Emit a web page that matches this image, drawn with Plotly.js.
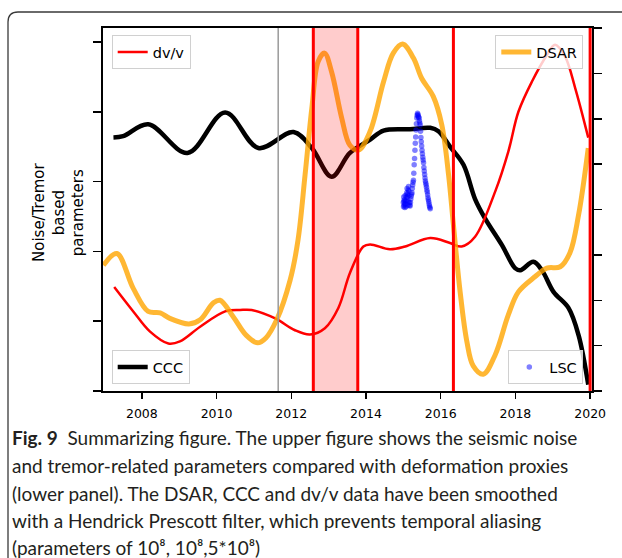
<!DOCTYPE html>
<html>
<head>
<meta charset="utf-8">
<script src="https://cdn.plot.ly/plotly-3.0.1.min.js"></script>
<style>
html,body{margin:0;padding:0;background:#fff;}
#chart{width:622px;height:558px;}
</style>
</head>
<body>
<div id="chart"></div>
<script>
// ---- data (years, arbitrary normalised units) ----
var cccYears = [2007.24, 2007.50, 2008.17, 2009.22, 2010.23, 2011.12, 2012.06, 2012.55, 2013.08, 2013.57, 2014.11, 2014.47, 2015.18, 2015.72, 2015.94, 2016.25, 2016.61, 2016.92, 2017.19, 2017.64, 2017.99, 2018.13, 2018.48, 2018.71, 2019.02, 2019.42, 2019.69, 2019.95];
var cccVals  = [3.63, 3.65, 3.82, 3.41, 3.99, 3.48, 3.71, 3.48, 3.07, 3.41, 3.60, 3.73, 3.75, 3.77, 3.72, 3.50, 3.24, 2.75, 2.47, 2.09, 1.76, 1.73, 1.85, 1.73, 1.42, 1.19, 0.80, 0.09];

var dsarYears = [2006.97, 2007.33, 2007.77, 2008.17, 2008.49, 2008.75, 2009.26, 2009.56, 2009.91, 2010.09, 2010.45, 2010.79, 2011.10, 2011.32, 2011.61, 2011.97, 2012.18, 2012.37, 2012.55, 2012.72, 2012.89, 2013.08, 2013.35, 2013.57, 2013.80, 2014.11, 2014.47, 2014.73, 2014.98, 2015.27, 2015.49, 2015.80, 2016.03, 2016.21, 2016.34, 2016.52, 2016.70, 2016.87, 2017.14, 2017.46, 2017.81, 2018.08, 2018.53, 2018.84, 2019.20, 2019.46, 2019.69, 2019.95];
var dsarVals  = [1.80, 1.97, 1.47, 1.14, 1.12, 1.04, 0.96, 1.02, 1.26, 1.30, 1.06, 0.80, 0.69, 0.76, 1.02, 1.59, 2.16, 3.10, 4.05, 4.72, 4.84, 4.57, 3.91, 3.52, 3.45, 3.72, 4.43, 4.84, 4.97, 4.77, 4.48, 4.22, 3.81, 3.10, 2.38, 1.42, 0.71, 0.36, 0.24, 0.52, 1.09, 1.42, 1.64, 1.76, 1.78, 1.98, 2.52, 3.48];

var dvvYears = [2007.26, 2007.77, 2008.22, 2008.71, 2009.02, 2009.56, 2010.23, 2010.63, 2010.94, 2011.57, 2012.10, 2012.50, 2012.90, 2013.26, 2013.57, 2013.93, 2014.11, 2014.64, 2015.05, 2015.72, 2016.25, 2016.56, 2016.92, 2017.46, 2017.81, 2018.08, 2018.44, 2018.84, 2019.06, 2019.33, 2019.60, 2019.95];
var dvvVals  = [1.49, 1.14, 0.85, 0.68, 0.71, 0.92, 1.14, 1.16, 1.16, 1.04, 0.87, 0.81, 0.90, 1.19, 1.69, 2.07, 2.10, 2.03, 2.07, 2.19, 2.12, 2.07, 2.21, 2.86, 3.43, 4.00, 4.43, 4.81, 4.96, 4.79, 4.34, 3.63];

var lscYears = [2015.00, 2015.005, 2015.01, 2015.015, 2015.02, 2015.03, 2015.035, 2015.04, 2015.05, 2015.055, 2015.06, 2015.07, 2015.08, 2015.085, 2015.09, 2015.10, 2015.105, 2015.11, 2015.12, 2015.125, 2015.13, 2015.14, 2015.145, 2015.15, 2015.16, 2015.17, 2015.18, 2015.19, 2015.20, 2015.21, 2015.22,
  2015.23, 2015.24, 2015.25, 2015.26, 2015.27, 2015.28, 2015.29, 2015.30, 2015.31, 2015.32, 2015.33, 2015.34, 2015.35, 2015.36, 2015.37, 2015.38,
  2015.39, 2015.40, 2015.41, 2015.42, 2015.43, 2015.44, 2015.45, 2015.46, 2015.47, 2015.48, 2015.49, 2015.50, 2015.51, 2015.52, 2015.53, 2015.54, 2015.55, 2015.56, 2015.57, 2015.58, 2015.59, 2015.60, 2015.61, 2015.62, 2015.63, 2015.64, 2015.65, 2015.66, 2015.67, 2015.68, 2015.69, 2015.70, 2015.71, 2015.72];
var lscVals  = [2.70, 2.64, 2.78, 2.72, 2.66, 2.74, 2.68, 2.63, 2.80, 2.72, 2.68, 2.64, 2.72, 2.78, 2.84, 2.90, 2.82, 2.78, 2.66, 2.72, 2.88, 2.93, 2.80, 2.86, 2.70, 2.66, 2.65, 2.70, 2.75, 2.79, 2.82,
  2.84, 2.90, 2.95, 2.99, 3.02, 3.12, 3.24, 3.33, 3.45, 3.55, 3.64, 3.74, 3.83, 3.91, 3.95, 3.98,
  3.96, 3.94, 3.92, 3.91, 3.87, 3.84, 3.81, 3.72, 3.63, 3.57, 3.51, 3.45, 3.40, 3.35, 3.31, 3.27, 3.20, 3.15, 3.10, 3.05, 3.01, 2.98, 2.95, 2.92, 2.88, 2.85, 2.81, 2.77, 2.74, 2.71, 2.68, 2.65, 2.63, 2.61];

var xTickVals = [2008, 2010, 2012, 2014, 2016, 2018, 2020];
var xTickText = ['2008', '2010', '2012', '2014', '2016', '2018', '2020'];

var grayLineYear = 2011.65;
var bandStart = 2012.59, bandEnd = 2013.78;
var redLineYears = [2012.59, 2013.78, 2016.34, 2020.0];

var captionLines = [
  '<b>Fig. 9</b>  Summarizing figure. The upper figure shows the seismic noise',
  'and tremor-related parameters compared with deformation proxies',
  '(lower panel). The DSAR, CCC and dv/v data have been smoothed',
  'with a Hendrick Prescott filter, which prevents temporal aliasing',
  '(parameters of 10\u2078, 10\u2078,5*10\u2078)'
];

// ---- geometry helpers (pixel -> paper) ----
var L = 103, R = 592, T = 28, B = 391, W = 622, H = 558;
function px(x){ return (x - L) / (R - L); }
function py(y){ return (B - y) / (B - T); }

var traces = [
  {x: cccYears, y: cccVals, name: 'CCC', type: 'scatter', mode: 'lines',
   line: {color: '#000000', width: 4.5, shape: 'spline', smoothing: 1}, legend: 'legend3'},
  {x: dvvYears, y: dvvVals, name: 'dv/v', type: 'scatter', mode: 'lines',
   line: {color: '#ff0000', width: 2.5, shape: 'spline', smoothing: 1}, legend: 'legend'},
  {x: dsarYears, y: dsarVals, name: 'DSAR', type: 'scatter', mode: 'lines',
   line: {color: 'rgba(255,165,0,0.8)', width: 5, shape: 'spline', smoothing: 1}, legend: 'legend2'},
  {x: lscYears, y: lscVals, name: 'LSC', type: 'scatter', mode: 'markers',
   marker: {color: 'rgba(0,0,255,0.5)', size: 5.5, line: {width: 0}}, legend: 'legend4'},
  {x: [2010], y: [0], yaxis: 'y2', showlegend: false, mode: 'markers', marker: {opacity: 0}, hoverinfo: 'skip'}
];

var shapes = [];
shapes.push({type: 'rect', xref: 'x', yref: 'paper', x0: bandStart, x1: bandEnd, y0: 0, y1: 1,
  fillcolor: 'rgba(255,0,0,0.2)', line: {width: 0}, layer: 'above'});
shapes.push({type: 'line', xref: 'x', yref: 'paper', x0: grayLineYear, x1: grayLineYear, y0: 0, y1: 1,
  line: {color: '#9a9a9a', width: 1.5}, layer: 'above'});
redLineYears.forEach(function(v){
  shapes.push({type: 'line', xref: 'x', yref: 'paper', x0: v, x1: v, y0: 0, y1: 1,
    line: {color: '#ff0000', width: 3}, layer: 'above'});
});
// outer rounded frame
var fx = px(8), fx2 = px(18), fxr = px(640);
var fy = py(12), fy2 = py(22), fyb = py(580);
shapes.push({type: 'path', xref: 'paper', yref: 'paper',
  path: 'M ' + fx + ',' + fyb + ' L ' + fx + ',' + fy2 + ' Q ' + fx + ',' + fy + ' ' + fx2 + ',' + fy + ' L ' + fxr + ',' + fy,
  line: {color: '#3a3a3a', width: 1.3}});

var annotations = [];
annotations.push({xref: 'paper', yref: 'paper', x: px(59), y: py(213), xanchor: 'center', yanchor: 'middle',
  text: 'Noise/Tremor<br>based<br>parameters', textangle: -90, showarrow: false,
  font: {family: 'DejaVu Sans', size: 15, color: '#000'}});
var capY = [437, 465, 493, 520, 547];
captionLines.forEach(function(t, i){
  annotations.push({xref: 'paper', yref: 'paper', x: px(10), y: py(capY[i]), xanchor: 'left', yanchor: 'middle',
    text: t, showarrow: false, align: 'left',
    font: {family: 'Lato', size: 19, color: '#231f20'}});
});

var legBase = {bgcolor: 'rgba(255,255,255,0.8)', bordercolor: '#d0d0d0', borderwidth: 1,
  font: {family: 'DejaVu Sans', size: 14.5, color: '#000'}, xref: 'paper', yref: 'paper'};
function leg(o){ var r = {}; for (var k in legBase) r[k] = legBase[k]; for (var k2 in o) r[k2] = o[k2]; return r; }

var layout = {
  width: W, height: H,
  margin: {l: L, r: W - R, t: T, b: H - B, pad: 0},
  paper_bgcolor: '#ffffff', plot_bgcolor: '#ffffff',
  showlegend: true,
  xaxis: {range: [2006.96, 2020.05], tickvals: xTickVals, ticktext: xTickText,
    showgrid: false, zeroline: false, showline: true, mirror: true, linecolor: '#000', linewidth: 2,
    ticks: 'outside', ticklen: 6, tickwidth: 1.5, tickcolor: '#000', ticklabelstandoff: 4,
    tickfont: {family: 'DejaVu Sans', size: 12.5, color: '#000'}},
  yaxis: {range: [0, 5.2], dtick: 1, tick0: 0, showticklabels: false,
    showgrid: false, zeroline: false, showline: true, mirror: true, linecolor: '#000', linewidth: 2,
    ticks: 'outside', ticklen: 8, tickwidth: 1.5, tickcolor: '#000'},
  yaxis2: {range: [0, 8], dtick: 1, tick0: 0, overlaying: 'y', side: 'right', showticklabels: false,
    showgrid: false, zeroline: false, showline: true, linecolor: '#000', linewidth: 2,
    ticks: 'outside', ticklen: 8, tickwidth: 1.5, tickcolor: '#000'},
  legend: leg({x: px(111.7), y: py(35), xanchor: 'left', yanchor: 'top'}),
  legend2: leg({x: px(583.3), y: py(35), xanchor: 'right', yanchor: 'top'}),
  legend3: leg({x: px(111.7), y: py(384), xanchor: 'left', yanchor: 'bottom'}),
  legend4: leg({x: px(583.3), y: py(384), xanchor: 'right', yanchor: 'bottom'}),
  shapes: shapes,
  annotations: annotations
};

Plotly.newPlot('chart', traces, layout, {displayModeBar: false, staticPlot: true});
</script>
</body>
</html>
